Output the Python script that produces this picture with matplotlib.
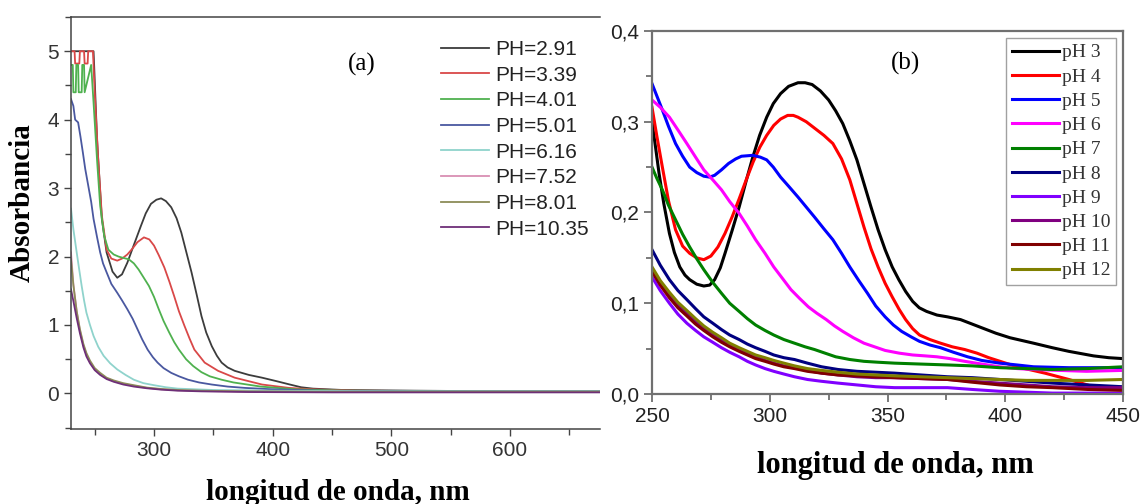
import matplotlib
matplotlib.use("Agg")
import matplotlib.pyplot as plt
from matplotlib.ticker import MultipleLocator

# ---- panel (a): absorbance vs wavelength ----
a_labels = ["PH=2.91", "PH=3.39", "PH=4.01", "PH=5.01",
            "PH=6.16", "PH=7.52", "PH=8.01", "PH=10.35"]
a_colors = ["#3c3c3c", "#d94848", "#4fb14f", "#4a58a0",
            "#8fd3cc", "#d98fb3", "#8c8c58", "#6e2f78"]

a_wl_291 = [230, 249, 249.5, 252, 256, 260, 265, 269, 273, 277.5, 283, 289, 293,
            297.4, 302, 306, 310, 314.5, 319, 323, 327, 331.6, 336, 340, 344,
            348.7, 353, 357, 362, 368, 380, 391, 403, 414.5, 424, 434, 459, 520, 600, 676]
a_ab_291 = [5.0, 5.0, 4.8, 3.7, 2.55, 2.06, 1.78, 1.69, 1.74, 1.91, 2.17, 2.45, 2.63,
            2.77, 2.83, 2.85, 2.81, 2.72, 2.56, 2.35, 2.08, 1.77, 1.44, 1.13, 0.89,
            0.69, 0.55, 0.45, 0.38, 0.33, 0.27, 0.23, 0.18, 0.13, 0.09, 0.07, 0.05, 0.04, 0.03, 0.03]

a_wl_339 = [230, 233, 233.5, 237, 237.5, 241, 241.5, 244, 244.5, 248.5, 250, 253, 256,
            260, 264, 269, 273, 277.5, 282, 286, 291.5, 296, 300, 304, 308.7, 313,
            317, 321, 325.6, 330, 334, 342.7, 354, 368, 391, 414, 434, 470, 560, 676]
a_ab_339 = [5.0, 5.0, 4.82, 4.82, 5.0, 5.0, 4.82, 4.82, 5.0, 5.0, 4.4, 3.4, 2.6,
            2.1, 1.97, 1.94, 1.97, 2.03, 2.12, 2.21, 2.28, 2.25, 2.16, 2.02, 1.84, 1.63,
            1.42, 1.2, 0.99, 0.8, 0.64, 0.45, 0.33, 0.23, 0.13, 0.08, 0.06, 0.04, 0.03, 0.03]

a_wl_401 = [230, 231.5, 232, 234, 234.5, 236, 236.5, 239, 239.5, 241, 241.5, 247,
            249, 252, 254.6, 258, 261.5, 266, 270, 274, 278.7, 283, 287, 291,
            295.7, 300, 304, 308, 312.8, 317, 321, 327, 333, 340, 347, 357, 367,
            390, 419, 460, 560, 676]
a_ab_401 = [4.8, 4.8, 4.4, 4.4, 4.8, 4.8, 4.4, 4.4, 4.8, 4.8, 4.4, 4.8,
            4.25, 3.4, 2.74, 2.3, 2.1, 2.03, 2.0, 1.98, 1.96, 1.9, 1.81, 1.7,
            1.57, 1.41, 1.23, 1.06, 0.89, 0.75, 0.64, 0.5, 0.4, 0.31, 0.25, 0.2, 0.16,
            0.1, 0.06, 0.04, 0.03, 0.03]

a_wl_501 = [230, 232, 233.5, 236, 238, 240, 242, 244.6, 247, 249, 252, 254.6, 257,
            260, 264, 269, 273, 277.5, 282, 286, 290, 294.6, 299, 303, 308, 314.5,
            321, 328.7, 338, 348.6, 362, 377, 400, 440, 520, 676]
a_ab_501 = [4.3, 4.2, 4.0, 3.96, 3.75, 3.52, 3.28, 3.03, 2.8, 2.55, 2.28, 2.06, 1.9,
            1.77, 1.6, 1.47, 1.36, 1.23, 1.09, 0.94, 0.79, 0.64, 0.53, 0.45, 0.37, 0.3,
            0.25, 0.2, 0.16, 0.13, 0.1, 0.08, 0.06, 0.04, 0.03, 0.03]

a_wl_616 = [230, 232, 234.8, 237, 239, 241, 243, 246, 249, 253, 257.5, 263, 269,
            276, 283, 291, 300, 310, 320, 350, 400, 500, 676]
a_ab_616 = [2.7, 2.4, 2.06, 1.8, 1.57, 1.36, 1.18, 1.0, 0.84, 0.68, 0.55, 0.44, 0.35,
            0.27, 0.2, 0.15, 0.12, 0.09, 0.07, 0.05, 0.04, 0.03, 0.03]

a_wl_low = [230, 232, 234.8, 237.5, 240.5, 243, 246, 250, 254.6, 260, 266, 274,
            283, 294, 306, 320, 340, 380, 450, 676]
a_ab_752 = [2.06, 1.6, 1.2, 0.92, 0.7, 0.57, 0.46, 0.35, 0.28, 0.22, 0.18, 0.14,
            0.11, 0.08, 0.06, 0.045, 0.035, 0.025, 0.02, 0.02]
a_ab_801 = [1.96, 1.58, 1.2, 0.94, 0.72, 0.59, 0.48, 0.37, 0.3, 0.23, 0.19, 0.15,
            0.12, 0.085, 0.065, 0.05, 0.04, 0.03, 0.025, 0.025]
a_ab_1035 = [1.52, 1.35, 1.1, 0.88, 0.67, 0.54, 0.44, 0.34, 0.27, 0.21, 0.17, 0.13,
             0.1, 0.075, 0.055, 0.04, 0.03, 0.02, 0.015, 0.015]

a_series = [(a_wl_291, a_ab_291), (a_wl_339, a_ab_339), (a_wl_401, a_ab_401),
            (a_wl_501, a_ab_501), (a_wl_616, a_ab_616), (a_wl_low, a_ab_752),
            (a_wl_low, a_ab_801), (a_wl_low, a_ab_1035)]

# ---- panel (b) ----
b_labels = ["pH 3", "pH 4", "pH 5", "pH 6", "pH 7",
            "pH 8", "pH 9", "pH 10", "pH 11", "pH 12"]
b_colors = ["#000000", "#ff0000", "#0000ff", "#ff00ff", "#008000",
            "#000080", "#8000ff", "#800080", "#800000", "#808000"]

b_wl_3 = [250, 251.5, 253, 255, 257.4, 259.5, 261.8, 264, 266, 269, 272, 274.5, 276.6,
          279, 281, 284, 287, 290, 292.8, 295.7, 298.7, 301.5, 304.6, 308, 312, 315,
          318, 321.5, 325, 328, 331, 334, 337, 340, 343, 346, 349, 352, 354.8, 357.7,
          360.7, 363.5, 366.6, 371, 375.5, 381, 385, 390, 396, 402, 412, 420, 427,
          437.5, 444, 450]
b_ab_3 = [0.300, 0.272, 0.243, 0.210, 0.177, 0.156, 0.140, 0.131, 0.126, 0.121, 0.119, 0.120,
          0.126, 0.139, 0.155, 0.180, 0.206, 0.235, 0.261, 0.285, 0.305, 0.320, 0.331, 0.339,
          0.343, 0.343, 0.341, 0.334, 0.324, 0.312, 0.298, 0.279, 0.258, 0.232, 0.206, 0.181,
          0.159, 0.140, 0.126, 0.113, 0.102, 0.095, 0.091, 0.087, 0.085, 0.082, 0.078, 0.073,
          0.067, 0.062, 0.056, 0.051, 0.047, 0.042, 0.040, 0.039]

b_wl_4 = [250, 252, 254.4, 257, 260, 263, 266, 269, 272, 275, 278, 281, 284, 287, 290,
          293, 295.8, 298.7, 301.7, 304.6, 307.6, 310, 312, 315.5, 319, 323, 326.8, 330.5,
          334, 337, 340, 343, 346, 349, 352, 355, 357.7, 360.7, 363.6, 368, 372.5, 377.5,
          382.8, 388, 393, 399, 405, 416.8, 427, 437.5, 450]
b_ab_4 = [0.316, 0.285, 0.250, 0.213, 0.181, 0.163, 0.155, 0.150, 0.148, 0.152, 0.162, 0.177,
          0.195, 0.215, 0.236, 0.256, 0.272, 0.285, 0.296, 0.303, 0.307, 0.307, 0.305, 0.300,
          0.293, 0.285, 0.276, 0.259, 0.236, 0.210, 0.184, 0.160, 0.140, 0.122, 0.107, 0.093,
          0.082, 0.072, 0.065, 0.060, 0.056, 0.052, 0.049, 0.045, 0.040, 0.035, 0.030, 0.023,
          0.016, 0.008, 0.005]

b_wl_5 = [250, 254.4, 257, 260, 263, 266, 269, 272, 274.5, 276.6, 279.5, 282.5, 285.5, 288,
          292.8, 296, 298.7, 301.5, 304.6, 308, 312, 315.5, 319, 323, 326.8, 330.5, 334,
          337.8, 341.5, 345, 349, 352.5, 356, 360, 363.6, 368, 372.5, 378, 384, 390, 397.6,
          405, 412, 427, 450]
b_ab_5 = [0.342, 0.313, 0.295, 0.276, 0.262, 0.250, 0.244, 0.240, 0.239, 0.241, 0.247, 0.254,
          0.259, 0.262, 0.263, 0.261, 0.258, 0.250, 0.239, 0.229, 0.217, 0.206, 0.195, 0.182,
          0.170, 0.155, 0.140, 0.125, 0.111, 0.097, 0.085, 0.076, 0.069, 0.063, 0.058, 0.054,
          0.051, 0.046, 0.041, 0.037, 0.034, 0.032, 0.030, 0.029, 0.029]

b_wl_6 = [250, 253.5, 257.4, 261, 264.8, 268.5, 272, 275.8, 279.5, 283, 287, 290.5, 294, 298,
          301.7, 305.5, 309, 312.8, 316.4, 320, 324, 327.5, 331, 335.5, 340, 344.5, 349, 355,
          360.7, 366, 371, 376.5, 382.8, 390, 397.6, 405, 412, 423, 434.5, 450]
b_ab_6 = [0.324, 0.316, 0.305, 0.291, 0.276, 0.261, 0.247, 0.236, 0.225, 0.212, 0.199, 0.185,
          0.170, 0.155, 0.140, 0.127, 0.115, 0.105, 0.096, 0.089, 0.082, 0.075, 0.069, 0.062,
          0.056, 0.052, 0.048, 0.045, 0.043, 0.042, 0.041, 0.039, 0.036, 0.033, 0.030, 0.028,
          0.027, 0.026, 0.025, 0.026]

b_wl_7 = [250, 252, 254.4, 257, 260, 263, 266, 269, 272, 275.8, 279.5, 283, 287, 290.5, 294,
          298, 301.7, 306, 310.5, 315, 319, 323.5, 328, 334, 340, 346, 353, 364, 375.5, 386,
          397.6, 409, 420, 435, 450]
b_ab_7 = [0.250, 0.238, 0.225, 0.208, 0.192, 0.176, 0.162, 0.149, 0.137, 0.123, 0.111, 0.100,
          0.091, 0.083, 0.076, 0.070, 0.065, 0.060, 0.056, 0.052, 0.049, 0.045, 0.041, 0.038,
          0.036, 0.035, 0.034, 0.033, 0.032, 0.031, 0.029, 0.028, 0.027, 0.028, 0.030]

b_wl_low = [250, 253.5, 257.4, 261, 264.8, 268.5, 272, 275.8, 279.5, 283, 287, 290.5, 294,
            298, 301.7, 306, 310.5, 316, 322, 329, 337, 345, 353, 364, 375.5, 386, 397.6,
            409, 420, 435, 450]
b_ab_8 = [0.159, 0.142, 0.126, 0.114, 0.104, 0.094, 0.085, 0.078, 0.071, 0.065, 0.060, 0.055,
          0.051, 0.047, 0.043, 0.040, 0.038, 0.034, 0.030, 0.027, 0.025, 0.024, 0.023, 0.021,
          0.019, 0.018, 0.016, 0.014, 0.012, 0.010, 0.008]
b_ab_9 = [0.129, 0.114, 0.100, 0.088, 0.078, 0.070, 0.063, 0.057, 0.051, 0.046, 0.041, 0.036,
          0.032, 0.028, 0.025, 0.022, 0.019, 0.016, 0.014, 0.012, 0.010, 0.008, 0.007, 0.007,
          0.007, 0.005, 0.003, 0.002, 0.001, 0.001, 0.001]
b_ab_10 = [0.137, 0.122, 0.109, 0.098, 0.089, 0.080, 0.073, 0.066, 0.060, 0.054, 0.049, 0.045,
           0.041, 0.037, 0.034, 0.031, 0.029, 0.026, 0.023, 0.021, 0.019, 0.018, 0.018, 0.017,
           0.016, 0.014, 0.012, 0.010, 0.008, 0.007, 0.007]
b_ab_11 = [0.135, 0.120, 0.106, 0.095, 0.086, 0.077, 0.070, 0.063, 0.057, 0.052, 0.047, 0.043,
           0.039, 0.036, 0.033, 0.030, 0.028, 0.025, 0.023, 0.021, 0.020, 0.019, 0.018, 0.017,
           0.016, 0.013, 0.010, 0.008, 0.007, 0.005, 0.004]
b_ab_12 = [0.140, 0.125, 0.112, 0.101, 0.092, 0.083, 0.075, 0.068, 0.062, 0.056, 0.051, 0.047,
           0.043, 0.040, 0.037, 0.034, 0.031, 0.028, 0.026, 0.024, 0.022, 0.021, 0.020, 0.019,
           0.018, 0.017, 0.016, 0.015, 0.015, 0.015, 0.016]

b_series = [(b_wl_3, b_ab_3), (b_wl_4, b_ab_4), (b_wl_5, b_ab_5), (b_wl_6, b_ab_6),
            (b_wl_7, b_ab_7), (b_wl_low, b_ab_8), (b_wl_low, b_ab_9), (b_wl_low, b_ab_10),
            (b_wl_low, b_ab_11), (b_wl_low, b_ab_12)]

W, H = 1145, 504
fig = plt.figure(figsize=(W / 100, H / 100), dpi=100)
fig.patch.set_facecolor("white")

serif = ["Liberation Serif", "DejaVu Serif"]
sans = ["Liberation Sans", "DejaVu Sans"]


def box(l, t, r, b):
    return [l / W, 1 - b / H, (r - l) / W, (b - t) / H]


# ---------------- (a) ----------------
ax1 = fig.add_axes(box(71, 17, 600, 429))
for (x, y), c, lab in zip(a_series, a_colors, a_labels):
    ax1.plot(x, y, color=c, lw=1.3, label=lab)
ax1.set_xlim(230, 676)
ax1.set_ylim(-0.52, 5.5)
ax1.xaxis.set_major_locator(MultipleLocator(100))
ax1.xaxis.set_minor_locator(MultipleLocator(50))
ax1.yaxis.set_major_locator(MultipleLocator(1))
ax1.yaxis.set_minor_locator(MultipleLocator(0.5))
ax1.spines["right"].set_visible(False)
for s in ("left", "top", "bottom"):
    ax1.spines[s].set_color("#444444")
    ax1.spines[s].set_linewidth(1.1)
ax1.tick_params(which="both", direction="out", color="#444444", width=1.0,
                labelsize=15, labelcolor="#333333")
ax1.tick_params(which="major", length=5)
ax1.tick_params(which="minor", length=4)
for t in ax1.get_xticklabels() + ax1.get_yticklabels():
    t.set_family(sans)
ax1.text((362 - 71) / 529, 1 - (64 - 17) / 412, "(a)", transform=ax1.transAxes,
         family=serif, fontsize=18, ha="center", va="center")
leg1 = ax1.legend(loc="upper left", bbox_to_anchor=((441 - 71) / 529, 1 - (40 - 17) / 412),
                  frameon=False, prop={"family": sans, "size": 15},
                  handlelength=2.3, handletextpad=0.3, labelspacing=0.32,
                  borderaxespad=0, borderpad=0)
for t in leg1.get_texts():
    t.set_color("#222222")
fig.text(22 / W, 1 - 203 / H, "Absorbancia", rotation=90, family=serif,
         fontweight="bold", fontsize=21, ha="center", va="center")
fig.text(338 / W, 1 - 492 / H, "longitud de onda, nm", family=serif,
         fontweight="bold", fontsize=21, ha="center", va="center")

# ---------------- (b) ----------------
ax2 = fig.add_axes(box(652, 31, 1123, 394))
for (x, y), c, lab in zip(b_series, b_colors, b_labels):
    ax2.plot(x, y, color=c, lw=2.2, label=lab)
ax2.set_xlim(250, 450)
ax2.set_ylim(0, 0.4)
ax2.xaxis.set_major_locator(MultipleLocator(50))
ax2.xaxis.set_minor_locator(MultipleLocator(25))
ax2.yaxis.set_major_locator(MultipleLocator(0.1))
ax2.yaxis.set_minor_locator(MultipleLocator(0.05))
ax2.yaxis.set_major_formatter(plt.FuncFormatter(lambda v, p: f"{v:.1f}".replace(".", ",")))
for s in ax2.spines.values():
    s.set_color("#707070")
    s.set_linewidth(1.6)
ax2.tick_params(which="both", direction="out", color="#707070", width=1.3,
                labelsize=15, labelcolor="#222222")
ax2.tick_params(which="major", length=6)
ax2.tick_params(which="minor", length=4)
for t in ax2.get_xticklabels() + ax2.get_yticklabels():
    t.set_family(sans)
ax2.text((906 - 652) / 471, 1 - (63 - 31) / 363, "(b)", transform=ax2.transAxes,
         family=serif, fontsize=18, ha="center", va="center")
leg2 = ax2.legend(loc="upper right",
                  bbox_to_anchor=((1116 - 652) / 471, 1 - (38 - 31) / 363),
                  frameon=True, fancybox=False, prop={"family": serif, "size": 14},
                  handlelength=2.4, handletextpad=0.15, labelspacing=0.34,
                  borderaxespad=0, borderpad=0.3)
leg2.get_frame().set_edgecolor("#8a8a8a")
leg2.get_frame().set_linewidth(1.0)
for t in leg2.get_texts():
    t.set_color("#333333")
fig.text(895 / W, 1 - 466 / H, "longitud de onda, nm", family=serif,
         fontweight="bold", fontsize=22, ha="center", va="center")

fig.savefig("out.png", dpi=100)
